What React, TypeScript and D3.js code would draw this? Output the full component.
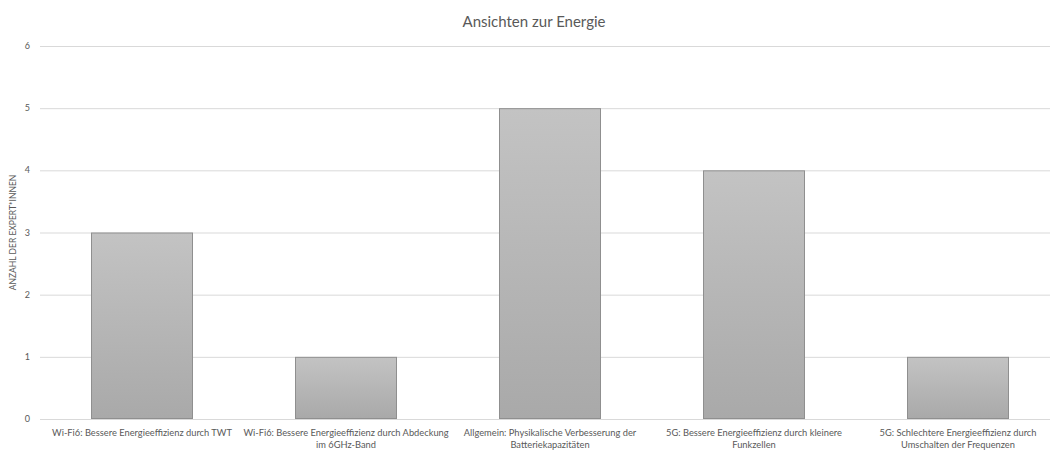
import React from "react";
import * as d3 from "d3";

const title = "Ansichten zur Energie";
const yAxisTitle = "ANZAHL DER EXPERT*INNEN";
const categories = [
  "Wi-Fi6: Bessere Energieeffizienz durch TWT",
  "Wi-Fi6: Bessere Energieeffizienz durch Abdeckung\nim 6GHz-Band",
  "Allgemein: Physikalische Verbesserung der\nBatteriekapazitäten",
  "5G: Bessere Energieeffizienz durch kleinere\nFunkzellen",
  "5G: Schlechtere Energieeffizienz durch\nUmschalten der Frequenzen",
];
const counts = [3, 1, 5, 4, 1];
const yTicks = [0, 1, 2, 3, 4, 5, 6];

const W = 1050;
const H = 451;
const margin = { left: 40, right: -10, top: 46, bottom: 32 };
const font = "Lato, 'Open Sans', sans-serif";

export default function App() {
  const x = d3
    .scaleBand<string>()
    .domain(categories)
    .range([margin.left, W - margin.right])
    .paddingInner(0.5)
    .paddingOuter(0.25);
  const y = d3.scaleLinear().domain([0, 6]).range([H - margin.bottom, margin.top]);

  return (
    <svg
      width={W}
      height={H}
      style={{ position: "absolute", left: 0, top: 0, background: "#fff" }}
      fontFamily={font}
    >
      <defs>
        <linearGradient id="barFill" x1="0" y1="0" x2="0" y2="1">
          <stop offset="0" stopColor="#c3c3c3" />
          <stop offset="1" stopColor="#a9a9a9" />
        </linearGradient>
      </defs>
      <text x={534} y={27} textAnchor="middle" fontSize={15} fill="#595959">
        {title}
      </text>
      {yTicks.map((t) => (
        <g key={t}>
          <line
            x1={margin.left}
            x2={W}
            y1={y(t) + 0.5}
            y2={y(t) + 0.5}
            stroke="#d9d9d9"
            strokeWidth={1}
          />
          <text
            x={30}
            y={y(t)}
            dy="0.35em"
            textAnchor="end"
            fontSize={9}
            fill="#595959"
          >
            {t}
          </text>
        </g>
      ))}
      <text
        transform={`translate(16,${(y(0) + y(6)) / 2}) rotate(-90)`}
        textAnchor="middle"
        fontSize={8.5}
        fill="#595959"
      >
        {yAxisTitle}
      </text>
      {categories.map((c, i) => (
        <rect
          key={c}
          x={(x(c) as number) + 0.5}
          y={y(counts[i]) + 0.5}
          width={x.bandwidth() - 1}
          height={y(0) - y(counts[i]) - 1}
          fill="url(#barFill)"
          stroke="#8f8f8f"
          strokeWidth={1}
        />
      ))}
      {categories.map((c) => {
        const cx = (x(c) as number) + x.bandwidth() / 2;
        return (
          <text key={c} x={cx} y={y(0) + 17} textAnchor="middle" fontSize={9.3} fill="#595959">
            {c.split("\n").map((line, j) => (
              <tspan key={j} x={cx} dy={j === 0 ? 0 : 12}>
                {line}
              </tspan>
            ))}
          </text>
        );
      })}
    </svg>
  );
}
